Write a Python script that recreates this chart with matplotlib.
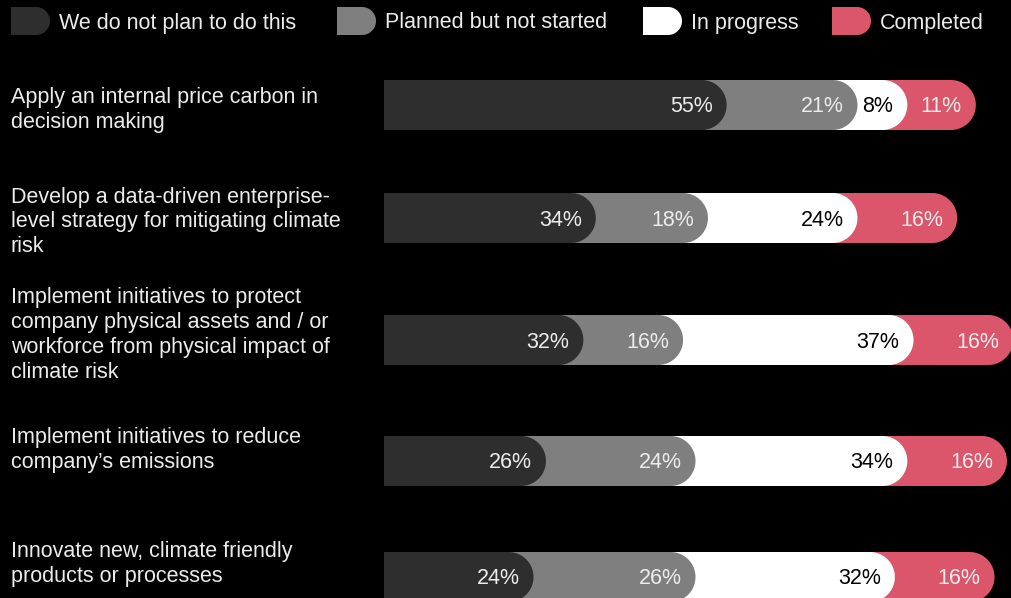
import numpy as np
import matplotlib.pyplot as plt
from matplotlib.patches import Polygon

W, H = 1011, 598

categories = [
    "Apply an internal price carbon in\ndecision making",
    "Develop a data-driven enterprise-\nlevel strategy for mitigating climate\nrisk",
    "Implement initiatives to protect\ncompany physical assets and / or\nworkforce from physical impact of\nclimate risk",
    "Implement initiatives to reduce\ncompany\u2019s emissions",
    "Innovate new, climate friendly\nproducts or processes",
]
series = ["We do not plan to do this", "Planned but not started", "In progress", "Completed"]
not_planned = [55, 34, 32, 26, 24]
planned     = [21, 18, 16, 24, 26]
in_progress = [8, 24, 37, 34, 32]
completed   = [11, 16, 16, 16, 16]

COLORS      = ["#2e2e2e", "#7f7f7f", "#ffffff", "#db566b"]
TEXT_COLORS = ["#ececec", "#ececec", "black", "#ececec"]
FG          = "#ececec"

# layout, in pixels
BAR_X0     = 384
PX_PER_PCT = 6.23
BAR_Y      = [105, 218, 340, 461, 577]
BAR_H      = 50
LABEL_Y    = [110, 222, 335, 450, 564]
LEGEND_X   = [11, 337, 643, 832]
FS         = 15.5

plt.rcParams["font.family"] = ["Liberation Sans", "DejaVu Sans"]


def pill(ax, x0, x1, yc, h, rx, color, z):
    """Square left edge, round right end."""
    t = np.linspace(-np.pi / 2, np.pi / 2, 60)
    arc_x = x1 - rx + rx * np.cos(t)
    arc_y = yc + h / 2 * np.sin(t)
    pts = [(x0, yc - h / 2)] + list(zip(arc_x, arc_y)) + [(x0, yc + h / 2)]
    ax.add_patch(Polygon(pts, closed=True, facecolor=color, edgecolor="none", zorder=z))


fig = plt.figure(figsize=(W / 100, H / 100), dpi=100, facecolor="black")

# bar axes: x in percent, y in pixels
ax = fig.add_axes([0, 0, 1, 1])
ax.set_xlim(-BAR_X0 / PX_PER_PCT, (W - BAR_X0) / PX_PER_PCT)
ax.set_ylim(H, 0)
ax.axis("off")

# overlay axes in pixels for legend and category text
ax2 = fig.add_axes([0, 0, 1, 1])
ax2.set_xlim(0, W)
ax2.set_ylim(H, 0)
ax2.axis("off")
ax2.patch.set_alpha(0)

data = np.array([not_planned, planned, in_progress, completed])
cum = data.cumsum(axis=0)
rx = (BAR_H / 2) / PX_PER_PCT
pad = 14 / PX_PER_PCT

for i, y in enumerate(BAR_Y):
    for s in range(len(series) - 1, -1, -1):
        pill(ax, 0, cum[s, i], y, BAR_H, rx, COLORS[s], z=10 - s)
        ax.text(cum[s, i] - pad, y + 2, f"{data[s, i]}%", ha="right", va="center",
                fontsize=FS, color=TEXT_COLORS[s], zorder=20)

for lab, y in zip(categories, LABEL_Y):
    ax2.text(11, y, lab, ha="left", va="center", fontsize=FS, color=FG,
             linespacing=1.25)

for s, x in enumerate(LEGEND_X):
    pill(ax2, x, x + 39, 21, 28, 14, COLORS[s], z=5)
    ax2.text(x + 48, 23, series[s], ha="left", va="center", fontsize=FS, color=FG)

fig.savefig("out.png", dpi=100, facecolor="black")
